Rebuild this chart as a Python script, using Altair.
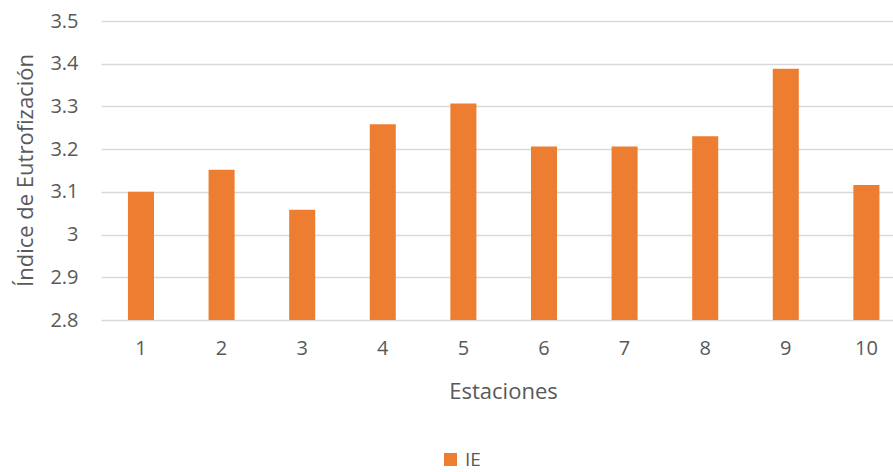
import altair as alt
import pandas as pd

estaciones = ["1", "2", "3", "4", "5", "6", "7", "8", "9", "10"]
ie_values = [3.10, 3.152, 3.058, 3.258, 3.307, 3.206, 3.206, 3.23, 3.388, 3.116]
y_ticks = [2.8, 2.9, 3.0, 3.1, 3.2, 3.3, 3.4, 3.5]
series_name = "IE"

df = pd.DataFrame({"Estaciones": estaciones, "IE": ie_values, "serie": [series_name] * len(estaciones)})

FONT = "Open Sans"
GRAY = "#595959"

chart = alt.Chart(df).mark_bar(color="#ED7D31", clip=True).encode(
    x=alt.X("Estaciones:N", sort=estaciones,
            scale=alt.Scale(paddingInner=0.677, paddingOuter=0.2515, align=0.665),
            axis=alt.Axis(title="Estaciones", labelAngle=0, ticks=False, domain=False,
                          labelPadding=18, labelFontSize=20, labelColor=GRAY, labelFont=FONT,
                          titleFontSize=22, titleColor=GRAY, titleFont=FONT, titleFontWeight="normal",
                          titleX=402, titleY=71, titleBaseline="middle")),
    y=alt.Y("IE:Q", scale=alt.Scale(domain=[2.8, 3.5], nice=False, zero=False),
            axis=alt.Axis(title="Índice de Eutrofización", values=y_ticks, format="~g",
                          ticks=False, domain=False, labelPadding=23,
                          labelFontSize=20, labelColor=GRAY, labelFont=FONT,
                          gridColor="#D9D9D9", gridWidth=1.3,
                          titleFontSize=22, titleColor=GRAY, titleFont=FONT, titleFontWeight="normal",
                          titleX=-76, titleY=149, titleAngle=270, titleAlign="center",
                          titleBaseline="middle")),
    fill=alt.Fill("serie:N", scale=alt.Scale(domain=[series_name], range=["#ED7D31"]),
                  legend=alt.Legend(title=None, orient="none", legendX=340, legendY=429,
                                    symbolType="square", symbolSize=170, symbolStrokeWidth=0,
                                    labelFontSize=19, labelColor=GRAY, labelFont=FONT,
                                    labelOffset=5))
).properties(
    width=792, height=299,
    autosize=alt.AutoSizeParams(type="none"),
    padding={"left": 101, "top": 21, "right": 0, "bottom": 152}
).configure_view(stroke=None)

chart.save("out.html", embed_options={"renderer": "svg", "actions": False})
